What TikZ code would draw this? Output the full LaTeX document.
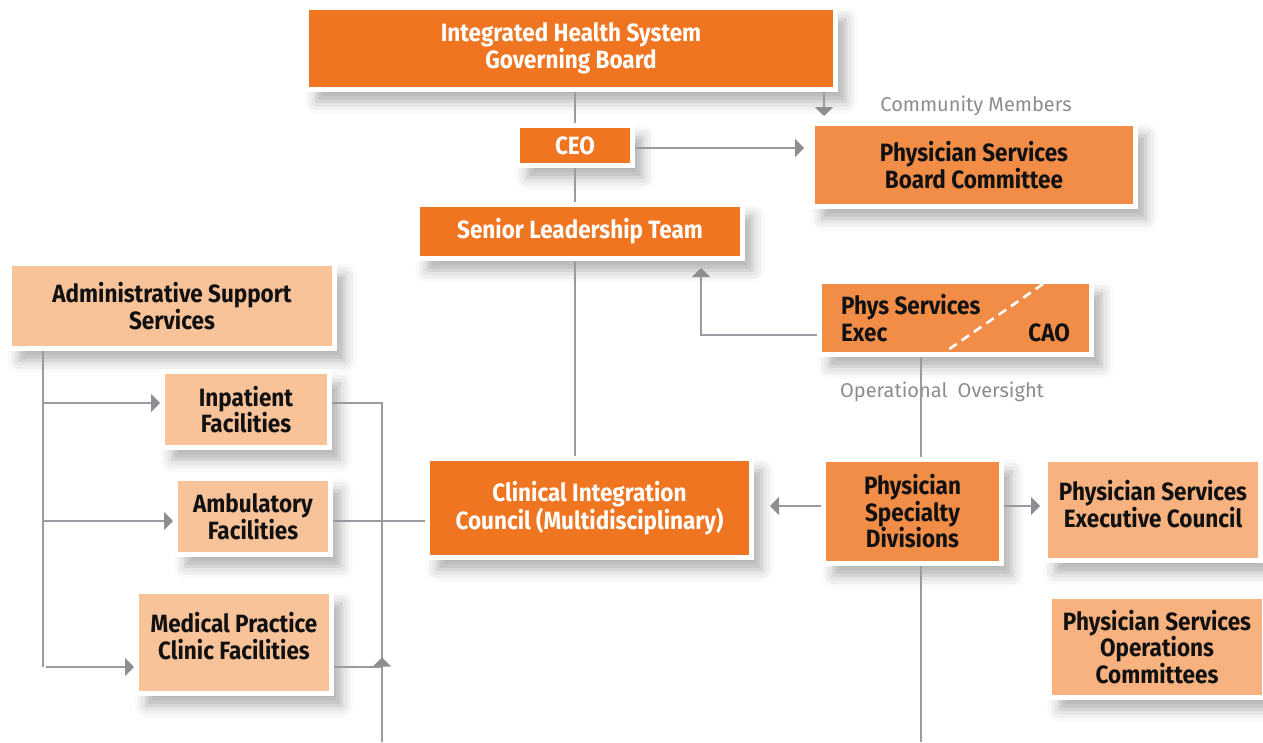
\documentclass[tikz,border=0pt]{standalone}
\usepackage{fontspec}
\setmainfont{Fira Sans}
\newfontfamily\boxfont{Fira Sans}[FakeStretch=0.9]
\newfontfamily\notefont{Fira Sans}
\usetikzlibrary{arrows.meta,shadows.blur}

\definecolor{darkor}{HTML}{EF7521}
\definecolor{midor}{HTML}{F28D47}
\definecolor{peach}{HTML}{F9C39A}
\definecolor{lightor}{HTML}{F7B27F}
\definecolor{linegray}{HTML}{9B9B9F}
\definecolor{tipgray}{HTML}{8C8E92}
\definecolor{notegray}{HTML}{8B8C90}
\definecolor{ink}{HTML}{111111}

\tikzset{
  box/.style={draw=white, line width=5pt, outer sep=2.5pt, inner sep=0pt,
    align=center, font=\boxfont\bfseries\fontsize{25}{26.5}\selectfont,
    blur shadow={shadow xshift=10pt, shadow yshift=-12pt,
      shadow blur radius=12pt, shadow opacity=32}},
  darkbox/.style={box, fill=darkor, text=white},
  midbox/.style={box, fill=midor, text=ink},
  peachbox/.style={box, fill=peach, text=ink},
  lightbox/.style={box, fill=lightor, text=ink},
  conn/.style={draw=linegray, line width=1.6pt},
  arr/.style={conn, -{Triangle[length=9pt, width=18pt, color=tipgray]}},
  note/.style={text=notegray, font=\notefont\fontsize{20}{24}\selectfont, inner sep=0pt},
}

\begin{document}
\begin{tikzpicture}[x=1pt, y=-1pt]
\useasboundingbox (0,0) rectangle (1263,742);

% governance chain
\node[darkbox, minimum width=529pt, minimum height=82pt] (gb) at (571,48.5)
  {Integrated Health System\\Governing Board};
\node[darkbox, minimum width=115pt, minimum height=40pt] (ceo) at (575,145.5) {CEO};
\node[darkbox, minimum width=325pt, minimum height=54pt] (slt) at (580,231.5)
  {Senior Leadership Team};
\node[midbox, minimum width=323pt, minimum height=83pt] (pbc) at (974,165)
  {Physician Services\\Board Committee};

% physician services executive / CAO
\node[midbox, minimum width=272pt, minimum height=73pt, text width=229pt, align=flush left]
  (exec) at (955.5,318) {Phys Services\\Exec\hspace{\fill}CAO};
\draw[white, line width=2.6pt, dash pattern=on 9pt off 6pt] (1043,284) -- (945,352);

% facilities column
\node[peachbox, minimum width=325pt, minimum height=85pt] (admin) at (172,306)
  {Administrative Support\\Services};
\node[peachbox, minimum width=167pt, minimum height=76pt] (inpat) at (246,409.5)
  {Inpatient\\Facilities};
\node[peachbox, minimum width=155pt, minimum height=76pt] (amb) at (253,516.5)
  {Ambulatory\\Facilities};
\node[peachbox, minimum width=195pt, minimum height=102pt, text depth=13pt] (med) at (234,642.5)
  {Medical Practice\\Clinic Facilities};

% clinical integration and physician divisions
\node[darkbox, minimum width=324pt, minimum height=99pt] (cic) at (589.5,508)
  {Clinical Integration\\Council (Multidisciplinary)};
\node[midbox, minimum width=178pt, minimum height=104pt] (psd) at (912.5,511.5)
  {Physician\\Specialty\\Divisions};
\node[lightbox, minimum width=215pt, minimum height=101pt, text depth=12pt] (pec) at (1153,510)
  {Physician Services\\Executive Council};
\node[lightbox, minimum width=215pt, minimum height=101pt] (poc) at (1157,647)
  {Physician Services\\Operations\\Committees};

% captions
\node[note] (cm) at (976,106) {Community Members};
\node[note, anchor=base] (oo) at (942,397) {Operational\hspace{0.25em} Oversight};

% connectors: governance chain
\draw[conn] (ceo.north) -- (ceo.north |- gb.south);
\draw[conn] (ceo.south) -- (ceo.south |- slt.north);
\draw[conn] (slt.south -| ceo.south) -- (cic.north -| ceo.south);

\coordinate (gbt) at ([xshift=-14pt]gb.south east);
\draw[arr, shorten >=5pt] (gbt) -- (gbt |- pbc.north);
\coordinate (ceor) at ([yshift=-2.5pt]ceo.east);
\draw[arr, shorten >=6pt] (ceor) -- (ceor -| pbc.west);

% connectors: executive
\coordinate (exl) at ([yshift=-17pt]exec.west);
\coordinate (sltk) at ([xshift=121pt]slt.south);
\draw[arr, shorten >=7pt] (exl) -| (sltk);
\coordinate (exd) at ([xshift=-34.5pt]exec.south);
\draw[conn] (exd) -- (exd |- psd.north);

% connectors: physician divisions
\coordinate (psl) at ([yshift=5.5pt]psd.west);
\draw[arr, shorten >=16pt] (psl) -- (psl -| cic.east);
\coordinate (psr) at ([yshift=5.5pt]psd.east);
\draw[arr, shorten >=3pt] (psr) -- (psr -| pec.west);
\coordinate (psdend) at (921,742);
\draw[conn] (psd.south -| psdend) -- (psdend);

% connectors: facilities
\coordinate (spine) at (43,667);
\draw[conn] (admin.south -| spine) -- (spine);
\coordinate (inl) at ([yshift=6.5pt]inpat.west);
\draw[arr] (inl -| spine) -- (inl);
\coordinate (aml) at ([yshift=-4.5pt]amb.west);
\draw[arr] (aml -| spine) -- (aml);
\coordinate (mdl) at ([yshift=-24.5pt]med.west);
\draw[arr] ([xshift=3pt]spine) -- (mdl);

\coordinate (riser) at (382,742);
\coordinate (inr) at ([yshift=6.5pt]inpat.east);
\draw[conn] (inr) -| (riser);
\coordinate (amr) at ([yshift=-4.5pt]amb.east);
\draw[conn] (amr) -- (amr -| cic.west);
\coordinate (mdr) at ([yshift=-24.5pt]med.east);
\draw[conn] (mdr) -- (mdr -| riser);
\draw[arr] (riser) -- ++(0,-84.5);
\end{tikzpicture}
\end{document}
